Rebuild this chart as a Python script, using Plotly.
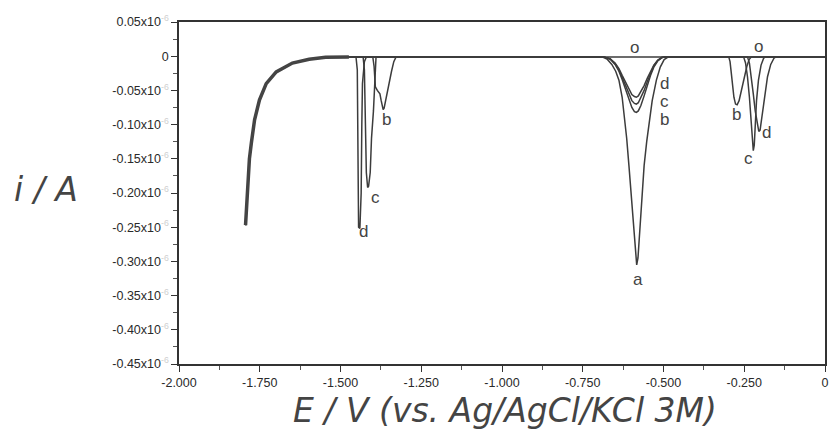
import plotly.graph_objects as go

# ---------------- data (E in V, i in units of 10^-6 A) ----------------
rise_E = [-1.794, -1.792, -1.789, -1.787, -1.782, -1.776, -1.766, -1.751, -1.730,
          -1.699, -1.649, -1.597, -1.546, -1.474]
rise_i = [-0.247, -0.228, -0.210, -0.176, -0.150, -0.127, -0.093, -0.064, -0.040,
          -0.023, -0.010, -0.0045, -0.0015, -0.001]

end_E = [0.0]
end_i = [-0.001]

# curve a : only the large peak near -0.58 V
a2_E = [-0.690, -0.675, -0.660, -0.648, -0.638, -0.628, -0.620, -0.614, -0.607, -0.600,
        -0.594, -0.588, -0.583, -0.579, -0.574, -0.567, -0.560, -0.552, -0.545, -0.535,
        -0.522, -0.510, -0.498, -0.485]
a2_i = [-0.001, -0.004, -0.012, -0.022, -0.035, -0.060, -0.090, -0.120, -0.160, -0.205,
        -0.245, -0.285, -0.305, -0.295, -0.255, -0.205, -0.160, -0.125, -0.100, -0.065,
        -0.035, -0.016, -0.005, -0.001]

# curve b
b1_E = [-1.400, -1.396, -1.392, -1.386, -1.378, -1.374, -1.368, -1.365, -1.358, -1.350,
        -1.342, -1.335, -1.328]
b1_i = [-0.001, -0.015, -0.045, -0.050, -0.055, -0.065, -0.078, -0.076, -0.058, -0.040,
        -0.022, -0.008, -0.001]
peak2_E = [-0.685, -0.665, -0.650, -0.638, -0.628, -0.618, -0.608, -0.598, -0.590, -0.584,
           -0.578, -0.570, -0.560, -0.550, -0.540, -0.530, -0.518, -0.505, -0.495]
b2_i = [-0.001, -0.004, -0.012, -0.022, -0.034, -0.048, -0.062, -0.075, -0.081, -0.082,
        -0.080, -0.072, -0.058, -0.042, -0.028, -0.016, -0.007, -0.002, -0.001]
b3_E = [-0.298, -0.294, -0.290, -0.286, -0.282, -0.277, -0.272, -0.266, -0.258, -0.250,
        -0.242, -0.235, -0.228]
b3_i = [-0.001, -0.008, -0.025, -0.045, -0.060, -0.070, -0.071, -0.065, -0.048, -0.030,
        -0.015, -0.005, -0.001]

# curve c
c1_E = [-1.430, -1.426, -1.424, -1.420, -1.416, -1.413, -1.408, -1.404, -1.398, -1.394, -1.390]
c1_i = [-0.001, -0.020, -0.100, -0.170, -0.192, -0.190, -0.170, -0.120, -0.080, -0.030, -0.001]
c2_i = [-0.001, -0.004, -0.011, -0.020, -0.031, -0.043, -0.055, -0.065, -0.069, -0.070,
        -0.068, -0.061, -0.050, -0.037, -0.025, -0.014, -0.006, -0.002, -0.001]
c3_E = [-0.252, -0.246, -0.240, -0.234, -0.229, -0.225, -0.222, -0.219, -0.216, -0.212,
        -0.206, -0.198, -0.190, -0.184]
c3_i = [-0.001, -0.010, -0.030, -0.060, -0.095, -0.125, -0.138, -0.130, -0.100, -0.065,
        -0.035, -0.013, -0.003, -0.001]

# curve d
d1_E = [-1.452, -1.448, -1.447, -1.444, -1.440, -1.436, -1.434, -1.432, -1.426, -1.420]
d1_i = [-0.001, -0.020, -0.150, -0.250, -0.252, -0.200, -0.100, -0.040, -0.008, -0.001]
d2_i = [-0.001, -0.004, -0.010, -0.018, -0.028, -0.038, -0.048, -0.056, -0.059, -0.060,
        -0.058, -0.052, -0.043, -0.032, -0.022, -0.013, -0.006, -0.002, -0.001]
d3_E = [-0.240, -0.234, -0.228, -0.222, -0.216, -0.210, -0.205, -0.201, -0.197, -0.192,
        -0.186, -0.178, -0.168, -0.158, -0.152]
d3_i = [-0.001, -0.010, -0.030, -0.055, -0.080, -0.100, -0.110, -0.108, -0.095, -0.075,
        -0.052, -0.030, -0.012, -0.003, -0.001]

# curve labels
label_text = ["d", "c", "b", "a", "d", "c", "b", "b", "c", "d", "o", "o"]
label_E = [-1.428, -1.391, -1.357, -0.578, -0.498, -0.498, -0.498, -0.274, -0.237, -0.182, -0.591, -0.206]
label_i = [-0.257, -0.206, -0.093, -0.327, -0.040, -0.066, -0.092, -0.0845, -0.149, -0.112, 0.012, 0.0135]

x_ticks = [-2.0, -1.75, -1.5, -1.25, -1.0, -0.75, -0.5, -0.25, 0.0]
x_ticktext = ["-2.000", "-1.750", "-1.500", "-1.250", "-1.000", "-0.750", "-0.500", "-0.250", "0"]
y_ticks = [0.05, 0.0, -0.05, -0.10, -0.15, -0.20, -0.25, -0.30, -0.35, -0.40, -0.45]
y_tickbase = ["0.05", "0", "-0.05", "-0.10", "-0.15", "-0.20", "-0.25", "-0.30", "-0.35", "-0.40", "-0.45"]

# ---------------- figure ----------------
LINE = "#3c3c3c"
SUP = "<sup><span style='color:#cfcfcf'>-6</span></sup>"
y_ticktext = [t if t == "0" else t + "x10" + SUP for t in y_tickbase]


def build(segments_E, segments_i):
    E = list(rise_E)
    I = list(rise_i)
    for se, si in zip(segments_E, segments_i):
        E += se
        I += si
    E += end_E
    I += end_i
    return E, I


curves = {
    "o": build([], []),
    "a": build([a2_E], [a2_i]),
    "b": build([b1_E, peak2_E, b3_E], [b1_i, b2_i, b3_i]),
    "c": build([c1_E, peak2_E, c3_E], [c1_i, c2_i, c3_i]),
    "d": build([d1_E, peak2_E, d3_E], [d1_i, d2_i, d3_i]),
}

fig = go.Figure()
for name, (E, I) in curves.items():
    fig.add_trace(go.Scatter(x=E, y=I, mode="lines", name=name,
                             line=dict(color=LINE, width=1.5), showlegend=False))
fig.add_trace(go.Scatter(x=rise_E, y=rise_i, mode="lines", showlegend=False,
                         line=dict(color="#444444", width=3.5)))

for t, e, i in zip(label_text, label_E, label_i):
    fig.add_annotation(x=e, y=i, xref="x", yref="y", text=t, showarrow=False,
                       xanchor="center", yanchor="middle",
                       font=dict(family="Liberation Sans, Arial", size=17, color="#444444"))

W, H = 834, 432
ML, MR, MT, MB = 179, 5, 22, 68
PW, PH = W - ML - MR, H - MT - MB


def px_to_paper(px, py):
    return (px - ML) / PW, 1 - (py - MT) / PH


tx, ty = px_to_paper(45, 189)
fig.add_annotation(x=tx, y=ty, xref="paper", yref="paper", text="<i>i / A</i>",
                   showarrow=False, xanchor="center", yanchor="middle",
                   font=dict(family="DejaVu Sans", size=33, color="#444444"))
tx, ty = px_to_paper(507, 410)
fig.add_annotation(x=tx, y=ty, xref="paper", yref="paper", text="<i>E / V (vs. Ag/AgCl/KCl 3M)</i>",
                   showarrow=False, xanchor="center", yanchor="middle",
                   font=dict(family="DejaVu Sans", size=33, color="#444444"))

fig.update_layout(
    width=W, height=H,
    margin=dict(l=ML, r=MR, t=MT, b=MB),
    paper_bgcolor="white", plot_bgcolor="white",
    font=dict(family="Liberation Sans, Arial", size=12, color="#333333"),
    xaxis=dict(range=[-2.0, 0.0], tickvals=x_ticks, ticktext=x_ticktext,
               showgrid=False, zeroline=False, showline=True, mirror=True,
               linecolor="#333333", linewidth=1.5,
               ticks="outside", ticklen=6, tickwidth=1.2, tickcolor="#333333",
               minor=dict(dtick=0.125, tick0=0, ticks="outside", ticklen=4,
                          tickcolor="#555555", showgrid=False),
               tickfont=dict(size=12.5, color="#2a2a2a")),
    yaxis=dict(range=[-0.45, 0.05], tickvals=y_ticks, ticktext=y_ticktext,
               showgrid=False, zeroline=False, showline=True, mirror=True,
               linecolor="#333333", linewidth=1.5,
               ticks="outside", ticklen=6, tickwidth=1.2, tickcolor="#333333",
               minor=dict(dtick=0.025, tick0=0, ticks="outside", ticklen=4,
                          tickcolor="#555555", showgrid=False),
               tickfont=dict(size=12.5, color="#2a2a2a")),
)

fig.write_html("out.html", config={"displayModeBar": False},
               post_script="document.body.style.margin='0px';document.body.style.padding='0px';")
